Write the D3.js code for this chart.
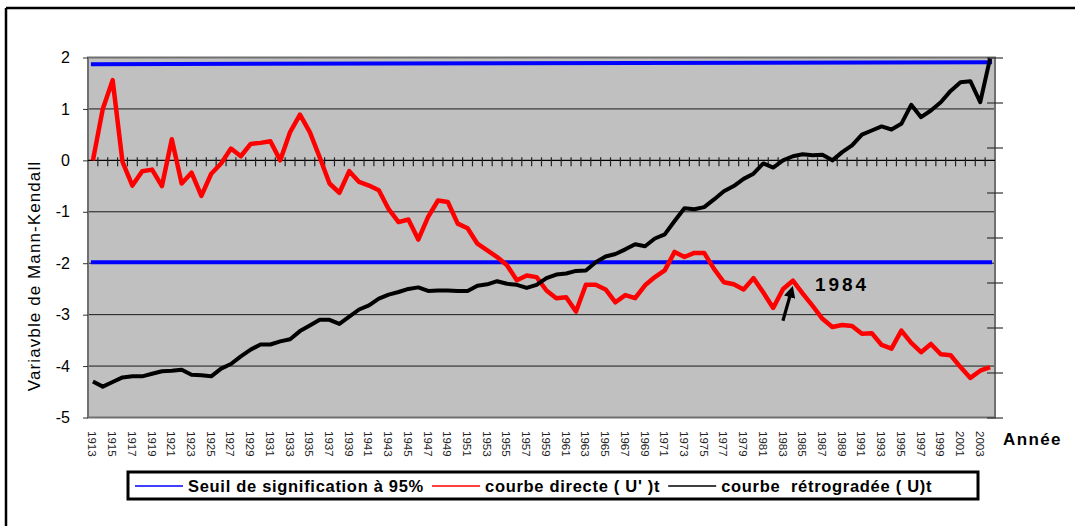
<!DOCTYPE html>
<html>
<head>
<meta charset="utf-8">
<script src="https://cdn.jsdelivr.net/npm/d3@7"></script>
<style>
  body { margin: 0; background: #fff; }
  svg { display: block; font-family: Arial, "Liberation Sans", sans-serif; }
</style>
</head>
<body>
<svg id="chart"></svg>
<script>
let w = 1075
let h = 526

// categories
let annees = d3.range(1913, 2005)
let anneesLabels = annees.filter(a => a % 2 === 1)

// courbe directe U'(t)
let courbeDirecte = [
  0.0, 1.0, 1.56, -0.03, -0.49, -0.21, -0.18, -0.5, 0.41, -0.45,
  -0.24, -0.69, -0.26, -0.06, 0.23, 0.08, 0.32, 0.34, 0.37, 0.0,
  0.55, 0.89, 0.55, 0.06, -0.45, -0.63, -0.21, -0.42, -0.49, -0.58,
  -0.95, -1.2, -1.15, -1.54, -1.1, -0.78, -0.81, -1.23, -1.32, -1.62,
  -1.75, -1.88, -2.04, -2.33, -2.24, -2.27, -2.53, -2.68, -2.66, -2.94,
  -2.42, -2.42, -2.51, -2.76, -2.62, -2.68, -2.43, -2.27, -2.14, -1.78,
  -1.88, -1.8, -1.8, -2.11, -2.37, -2.41, -2.51, -2.29, -2.57, -2.87,
  -2.5, -2.34, -2.59, -2.83, -3.08, -3.24, -3.2, -3.22, -3.37, -3.36,
  -3.59, -3.66, -3.31, -3.55, -3.73, -3.57, -3.77, -3.79, -4.02, -4.23,
  -4.09, -4.02
]

// courbe retrogradee U(t)
let courbeRetro = [
  -4.3, -4.4, -4.31, -4.22, -4.2, -4.2, -4.15, -4.1, -4.09, -4.07,
  -4.17, -4.18, -4.2, -4.05, -3.96, -3.81, -3.68, -3.58, -3.58, -3.52,
  -3.48, -3.32, -3.21, -3.1, -3.1, -3.18, -3.04, -2.9, -2.82, -2.69,
  -2.61, -2.56, -2.5, -2.47, -2.54, -2.53, -2.53, -2.54, -2.54, -2.44,
  -2.41, -2.35, -2.4, -2.42, -2.48, -2.42, -2.29, -2.22, -2.2, -2.15,
  -2.14, -1.98, -1.87, -1.82, -1.73, -1.63, -1.67, -1.52, -1.44, -1.18,
  -0.93, -0.95, -0.91, -0.76, -0.6, -0.5, -0.36, -0.26, -0.06, -0.14,
  0.0, 0.08, 0.12, 0.1, 0.11, 0.0, 0.16, 0.29, 0.5, 0.58,
  0.66, 0.6, 0.71, 1.08, 0.84, 0.97, 1.13, 1.35, 1.52, 1.54,
  1.13, 1.98
]

// seuils 95% (premiere et derniere annee)
let seuilHaut = [1.87, 1.91]
let seuilBas = [-1.98, -1.98]

let yTicks = [2, 1, 0, -1, -2, -3, -4, -5]
let gridVals = [1, -1, -2, -3, -4]

let legende = [
  { label: "Seuil de signification à 95%", color: "#0000ff" },
  { label: "courbe directe ( U' )t", color: "#ff0000" },
  { label: "courbe  rétrogradée ( U)t", color: "#000000" }
]

let svg = d3.select("#chart").attr("width", w).attr("height", h)

// cadre exterieur
svg.append("line").attr("x1", 6).attr("y1", 8).attr("x2", 6).attr("y2", h)
  .attr("stroke", "#000").attr("stroke-width", 2.5)
svg.append("line").attr("x1", 6).attr("y1", 8).attr("x2", w).attr("y2", 8)
  .attr("stroke", "#000").attr("stroke-width", 2.5)

let pLeft = 88, pRight = 995, pTop = 57.5, pBottom = 417.5

let x = d3.scaleBand().domain(annees).range([pLeft, pRight]).padding(0)
let cx = a => x(a) + x.bandwidth() / 2
let y = d3.scaleLinear().domain([-5, 2]).range([pBottom, pTop])

// fond
svg.append("rect")
  .attr("x", pLeft).attr("y", pTop)
  .attr("width", pRight - pLeft).attr("height", pBottom - pTop)
  .attr("fill", "#c0c0c0")

// grille
svg.selectAll(".grid").data(gridVals).join("line")
  .attr("class", "grid")
  .attr("x1", pLeft).attr("x2", pRight)
  .attr("y1", d => y(d)).attr("y2", d => y(d))
  .attr("stroke", "#1a1a1a").attr("stroke-width", 1)

// cadre de la zone
svg.append("rect")
  .attr("x", pLeft).attr("y", pTop)
  .attr("width", pRight - pLeft).attr("height", pBottom - pTop)
  .attr("fill", "none").attr("stroke", "#707070").attr("stroke-width", 2)

// axe Y gauche
let yAxis = svg.append("g")
  .attr("transform", `translate(${pLeft},0)`)
  .call(d3.axisLeft(y).tickValues(yTicks).tickSize(5).tickPadding(13).tickFormat(d3.format("d")))
yAxis.select(".domain").remove()
yAxis.selectAll(".tick line").attr("stroke", "#333")
yAxis.selectAll("text").attr("font-size", 16).attr("fill", "#000")
  .text(d => d < 0 ? "-" + Math.abs(d) : d)

// axe Y droit (secondaire, sans libelles)
let y2 = d3.scaleLinear().domain([0, 8]).range([pBottom, pTop])
let yAxis2 = svg.append("g")
  .attr("transform", `translate(${pRight - 8},0)`)
  .call(d3.axisRight(y2).ticks(8).tickSize(16).tickFormat(""))
yAxis2.select(".domain").remove()
yAxis2.selectAll(".tick line").attr("stroke", "#333").attr("stroke-width", 1.2)

// axe des categories a y = 0
svg.append("line")
  .attr("x1", pLeft).attr("x2", pRight)
  .attr("y1", y(0)).attr("y2", y(0))
  .attr("stroke", "#000").attr("stroke-width", 1.2)
svg.selectAll(".xtick").data(annees.slice(1)).join("line")
  .attr("class", "xtick")
  .attr("x1", d => x(d)).attr("x2", d => x(d))
  .attr("y1", y(0) - 3).attr("y2", y(0) + 6)
  .attr("stroke", "#222").attr("stroke-width", 1.2)

// libelles des annees
svg.selectAll(".xlab").data(anneesLabels).join("text")
  .attr("class", "xlab")
  .attr("transform", d => `translate(${cx(d) - 4.5},431) rotate(90)`)
  .attr("font-size", 11.5)
  .attr("fill", "#222")
  .text(d => d)

svg.append("text")
  .attr("x", 1003).attr("y", 445)
  .attr("font-size", 17).attr("font-weight", "bold")
  .attr("letter-spacing", 1.4)
  .text("Année")

// titre axe Y
svg.append("text")
  .attr("transform", "translate(40,276) rotate(-90)")
  .attr("text-anchor", "middle")
  .attr("font-size", 17)
  .attr("letter-spacing", 1.1)
  .text("Variavble de Mann-Kendall")

// seuils
let seuilLine = d3.line().x(d => d[0]).y(d => y(d[1]))
;[seuilHaut, seuilBas].forEach(s => {
  svg.append("path")
    .datum([[cx(annees[0]) - 2, s[0]], [cx(annees[annees.length - 1]) + 2, s[1]]])
    .attr("d", seuilLine)
    .attr("fill", "none")
    .attr("stroke", "#0000ff")
    .attr("stroke-width", 4)
})

// courbes
let line = d3.line().x((d, i) => cx(annees[i])).y(d => y(d))

svg.append("path")
  .datum(courbeDirecte)
  .attr("d", line)
  .attr("fill", "none")
  .attr("stroke", "#ff0000")
  .attr("stroke-width", 4.5)
  .attr("stroke-linejoin", "round")

svg.append("path")
  .datum(courbeRetro)
  .attr("d", line)
  .attr("fill", "none")
  .attr("stroke", "#000")
  .attr("stroke-width", 4)
  .attr("stroke-linejoin", "round")

// annotation 1984
let i84 = annees.indexOf(1984)
let px = cx(1984), py = y(courbeDirecte[i84])
svg.append("defs").append("marker")
  .attr("id", "fleche")
  .attr("viewBox", "0 0 10 10")
  .attr("refX", 4).attr("refY", 5)
  .attr("markerWidth", 3.6).attr("markerHeight", 3.6)
  .attr("orient", "auto")
  .append("path").attr("d", "M0,0 L10,5 L0,10 z").attr("fill", "#000")
svg.append("line")
  .attr("x1", px - 10).attr("y1", py + 40)
  .attr("x2", px - 2).attr("y2", py + 12)
  .attr("stroke", "#000").attr("stroke-width", 3.2)
  .attr("marker-end", "url(#fleche)")
svg.append("text")
  .attr("x", px + 22).attr("y", py + 10)
  .attr("font-size", 19).attr("font-weight", "bold")
  .attr("letter-spacing", 3)
  .text("1984")

// legende
let leg = svg.append("g")
leg.append("rect")
  .attr("x", 128).attr("y", 472)
  .attr("width", 850).attr("height", 27)
  .attr("fill", "#fff").attr("stroke", "#000").attr("stroke-width", 3)
let lx = 135
legende.forEach(item => {
  leg.append("line")
    .attr("x1", lx).attr("x2", lx + 48)
    .attr("y1", 486).attr("y2", 486)
    .attr("stroke", item.color).attr("stroke-width", 1.5)
  let t = leg.append("text")
    .attr("x", lx + 53).attr("y", 492)
    .attr("font-size", 16.5).attr("font-weight", "bold")
    .attr("letter-spacing", 0.7)
    .attr("xml:space", "preserve")
    .style("white-space", "pre")
    .text(item.label)
  lx += 53 + t.node().getComputedTextLength() + 8
})
</script>
</body>
</html>
